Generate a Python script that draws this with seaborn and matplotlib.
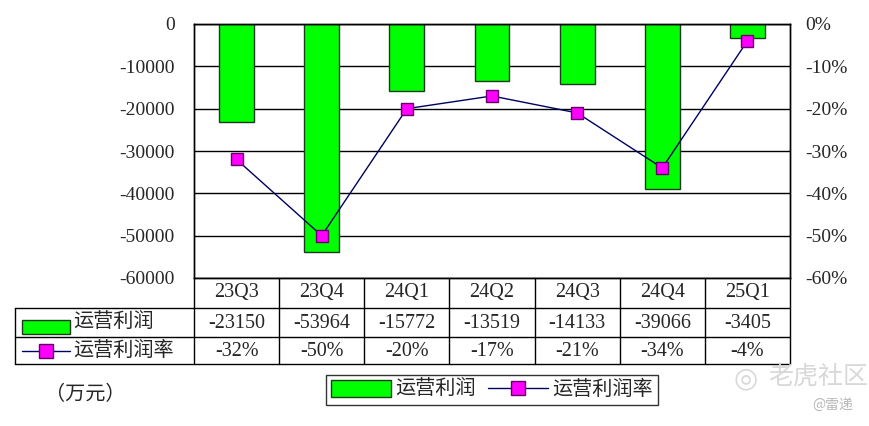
import numpy as np
import seaborn as sns
import matplotlib
matplotlib.use("Agg")
import matplotlib.pyplot as plt
from matplotlib.patches import Rectangle, Patch
from matplotlib.lines import Line2D

# data
quarters = ['23Q3', '23Q4', '24Q1', '24Q2', '24Q3', '24Q4', '25Q1']
op_profit = [-23150, -53964, -15772, -13519, -14133, -39066, -3405]
op_margin = [-32, -50, -20, -17, -21, -34, -4]
profit_label = '运营利润'
margin_label = '运营利润率'
unit_label = '（万元）'

W, H = 870, 426
def fx(px):
    return px / W
def fy(py):
    return 1 - py / H

sns.set_theme(style="white")
plt.rcParams['font.family'] = ['Liberation Serif', 'Noto Sans CJK SC']
plt.rcParams['axes.unicode_minus'] = False

BAR_GREEN = '#00FF00'
BAR_EDGE = '#1e3a1e'
LINE_NAVY = '#000060'
MAGENTA = '#FF00FF'
MAG_EDGE = '#660066'
FS = 14.5
FS_CJK = 14.5

fig = plt.figure(figsize=(W / 100, H / 100), dpi=100)
fig.patch.set_facecolor('white')

left, right, top, bottom = 194, 790, 24, 278
ax = fig.add_axes([fx(left), fy(bottom), fx(right - left), (bottom - top) / H])

x = np.arange(len(quarters))
sns.barplot(x=quarters, y=op_profit, ax=ax, color=BAR_GREEN, saturation=1,
            edgecolor=BAR_EDGE, linewidth=1, width=0.41)
ax.set_ylim(-60000, 0)
ax.set_xlim(-0.5, len(quarters) - 0.5)
ax.set_yticks(np.arange(-60000, 1, 10000))
ax.set_yticklabels([f'{v}' for v in np.arange(-60000, 1, 10000)], fontsize=14)
ax.tick_params(axis='y', length=0, pad=14)
ax.tick_params(axis='x', length=0, labelbottom=False)
ax.set_xlabel('')
ax.set_ylabel('')
ax.yaxis.grid(True, color='black', linewidth=1)
ax.set_axisbelow(True)
for sp in ax.spines.values():
    sp.set_color('black')
    sp.set_linewidth(1)

ax2 = ax.twinx()
sns.lineplot(x=x, y=op_margin, ax=ax2, color=LINE_NAVY, linewidth=1,
             marker='s', markersize=9, markerfacecolor=MAGENTA,
             markeredgecolor=MAG_EDGE, markeredgewidth=1)
ax2.set_ylim(-60, 0)
ax2.set_yticks(np.arange(-60, 1, 10))
ax2.set_yticklabels([f'{v}%' for v in np.arange(-60, 1, 10)], fontsize=14)
ax2.tick_params(axis='y', length=0, pad=11)
ax2.set_ylabel('')
ax2.grid(False)
for sp in ax2.spines.values():
    sp.set_color('black')
    sp.set_linewidth(1)

# data table under the plot
col_edges = np.linspace(left, right, len(quarters) + 1)
row_y = [278, 308, 337, 364]
tl = dict(color='black', linewidth=1)
for yy in row_y[1:]:
    fig.add_artist(Line2D([fx(15), fx(right)], [fy(yy), fy(yy)], **tl))
fig.add_artist(Line2D([fx(15), fx(15)], [fy(row_y[1]), fy(row_y[3])], **tl))
for xe in col_edges:
    fig.add_artist(Line2D([fx(xe), fx(xe)], [fy(row_y[0]), fy(row_y[3])], **tl))

centers = (col_edges[:-1] + col_edges[1:]) / 2
for i, q in enumerate(quarters):
    fig.text(fx(centers[i]), fy(293), q, ha='center', va='center', fontsize=FS)
    fig.text(fx(centers[i]), fy(323), f'{op_profit[i]}', ha='center', va='center', fontsize=FS)
    fig.text(fx(centers[i]), fy(351), f'{op_margin[i]}%', ha='center', va='center', fontsize=FS)

# row keys
fig.add_artist(Rectangle((fx(22), fy(334)), fx(48), 14 / H, facecolor=BAR_GREEN,
                         edgecolor=BAR_EDGE, linewidth=1))
fig.text(fx(73), fy(323), profit_label, ha='left', va='center', fontsize=FS_CJK)
fig.add_artist(Line2D([fx(22), fx(70)], [fy(351), fy(351)], color=LINE_NAVY, linewidth=1))
fig.add_artist(Line2D([fx(46)], [fy(351)], marker='s', markersize=10, color=LINE_NAVY,
                      markerfacecolor=MAGENTA, markeredgecolor=MAG_EDGE))
fig.text(fx(73), fy(351), margin_label, ha='left', va='center', fontsize=FS_CJK)

fig.text(fx(45), fy(395), unit_label, ha='left', va='center', fontsize=FS_CJK)

# legend
handles = [Patch(facecolor=BAR_GREEN, edgecolor=BAR_EDGE, linewidth=1),
           Line2D([], [], color=LINE_NAVY, linewidth=1, marker='s', markersize=10,
                  markerfacecolor=MAGENTA, markeredgecolor=MAG_EDGE)]
leg = fig.legend(handles, [profit_label, margin_label], ncol=2, loc='center',
                 bbox_to_anchor=(fx(492), fy(390)), frameon=True, fancybox=False,
                 edgecolor='black', fontsize=FS_CJK, handlelength=3.0, handleheight=0.9,
                 columnspacing=0.6, handletextpad=0.2, borderpad=0.25, borderaxespad=0)
leg.get_frame().set_linewidth(1)

# watermark
fig.text(fx(768), fy(377), '老虎社区', ha='left', va='center', fontsize=18,
         color='#d8d8d8', family=['Noto Sans CJK SC'])
fig.text(fx(746), fy(378), '◎', ha='center', va='center', fontsize=20,
         color='#d8d8d8', family=['DejaVu Sans'])
fig.text(fx(812), fy(405), '@雷递', ha='left', va='center', fontsize=10,
         color='#b8b8b8', family=['Noto Sans CJK SC'])

fig.savefig('out.png', dpi=100, facecolor='white')
